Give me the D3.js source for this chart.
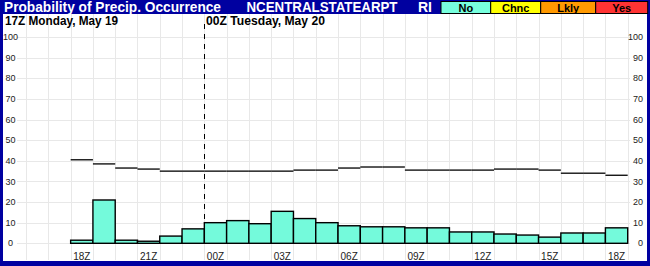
<!DOCTYPE html>
<html>
<head>
<meta charset="utf-8">
<script src="https://cdn.jsdelivr.net/npm/d3@7"></script>
<style>
  body { margin: 0; background: #fff; }
  svg { display: block; font-family: Arial, "Liberation Sans", sans-serif; }
</style>
</head>
<body>
<svg id="chart" width="650" height="266"></svg>
<script>
// Hourly categories, 18Z Monday through 18Z Tuesday
const hourLabels = ['18Z', '19Z', '20Z', '21Z', '22Z', '23Z', '00Z', '01Z', '02Z', '03Z', '04Z', '05Z',
  '06Z', '07Z', '08Z', '09Z', '10Z', '11Z', '12Z', '13Z', '14Z', '15Z', '16Z', '17Z', '18Z'];

// Probability of precip (bars), percent
const popValues = [1.5, 21, 1.5, 1, 3.5, 7, 10, 11, 9.5, 15.5, 12, 10,
  8.5, 8, 8, 7.5, 7.5, 5.5, 5.5, 4.5, 4, 3, 5, 5, 7.5];

// Reference level (black step line), percent
const refValues = [40.5, 38.5, 36.5, 36, 35, 35, 35, 35, 35, 35, 35.5, 35.5,
  36.5, 37, 37, 35.5, 35.5, 35.5, 35.5, 36, 36, 35.5, 34, 34, 33];

const yTicks = [0, 10, 20, 30, 40, 50, 60, 70, 80, 90, 100];

const legendItems = [
  { label: 'No', color: '#77ffdd' },
  { label: 'Chnc', color: '#ffff00' },
  { label: 'Lkly', color: '#ff9900' },
  { label: 'Yes', color: '#ff3333' }
];

const svg = d3.select('#chart');
const blue = '#0000a0';

// Scales: index 0 = 18Z Monday, 6 = 00Z Tuesday
const x = d3.scaleLinear().domain([-3, 25]).range([3.8, 627.7]);
const y = d3.scaleLinear().domain([0, 100]).range([243.3, 37.1]);

// Frame and title bar
svg.append('rect').attr('width', 650).attr('height', 266).attr('fill', blue);
svg.append('rect').attr('x', 3).attr('y', 14).attr('width', 644).attr('height', 247).attr('fill', '#fff');

svg.append('text').attr('x', 4).attr('y', 12)
  .attr('fill', '#fff').attr('font-size', 14).attr('font-weight', 'bold')
  .attr('textLength', 217).attr('lengthAdjust', 'spacingAndGlyphs')
  .text('Probability of Precip. Occurrence');
svg.append('text').attr('x', 246.5).attr('y', 12)
  .attr('fill', '#fff').attr('font-size', 14).attr('font-weight', 'bold')
  .attr('textLength', 151).attr('lengthAdjust', 'spacingAndGlyphs')
  .text('NCENTRALSTATEARPT');
svg.append('text').attr('x', 418).attr('y', 12)
  .attr('fill', '#fff').attr('font-size', 14).attr('font-weight', 'bold')
  .text('RI');

// Legend boxes
const legendX = [441, 490.7, 540.7, 595.7, 647.7];
const legend = svg.append('g');
legendItems.forEach((d, i) => {
  legend.append('rect')
    .attr('x', legendX[i]).attr('y', 1.5)
    .attr('width', legendX[i + 1] - legendX[i]).attr('height', 12)
    .attr('fill', d.color).attr('stroke', '#000').attr('stroke-width', 1);
  legend.append('text')
    .attr('x', (legendX[i] + legendX[i + 1]) / 2).attr('y', 11.5)
    .attr('text-anchor', 'middle').attr('font-size', 11).attr('font-weight', 'bold')
    .text(d.label);
});

// Grid
const grid = svg.append('g').attr('stroke', '#e8e8e8').attr('stroke-width', 1);
d3.range(-2, 26).forEach(h => {
  const xx = Math.round(x(h)) + 0.5;
  grid.append('line').attr('x1', xx).attr('x2', xx).attr('y1', 14).attr('y2', 260);
});
yTicks.forEach(t => {
  const yy = Math.round(y(t)) + 0.5;
  grid.append('line').attr('x1', 17).attr('x2', 630).attr('y1', yy).attr('y2', yy);
});

// Day labels
svg.append('text').attr('x', 5).attr('y', 25)
  .attr('font-size', 12).attr('font-weight', 'bold')
  .attr('textLength', 113).attr('lengthAdjust', 'spacingAndGlyphs')
  .text('17Z Monday, May 19');
svg.append('text').attr('x', 206).attr('y', 25)
  .attr('font-size', 12).attr('font-weight', 'bold')
  .attr('textLength', 119).attr('lengthAdjust', 'spacingAndGlyphs')
  .text('00Z Tuesday, May 20');

// Day boundary (00Z)
svg.append('line')
  .attr('x1', Math.round(x(6)) + 0.5).attr('x2', Math.round(x(6)) + 0.5)
  .attr('y1', 24).attr('y2', y(0))
  .attr('stroke', '#000').attr('stroke-dasharray', '5,5');

// Y axis labels (both sides)
const yLabels = svg.append('g').attr('font-size', 9).attr('fill', '#222');
yTicks.forEach(t => {
  yLabels.append('text').attr('x', 10.5).attr('y', y(t)).attr('dy', '0.35em')
    .attr('text-anchor', 'middle').text(t);
  yLabels.append('text').attr('x', 643).attr('y', y(t)).attr('dy', '0.35em')
    .attr('text-anchor', 'end').text(t);
});

// Bars
svg.append('g').selectAll('rect')
  .data(popValues)
  .join('rect')
  .attr('x', (d, i) => x(i))
  .attr('y', d => y(d))
  .attr('width', (d, i) => x(i + 1) - x(i))
  .attr('height', d => y(0) - y(d))
  .attr('fill', '#74fadb')
  .attr('stroke', '#000')
  .attr('stroke-width', 1.4);

// Step line, one flat segment per hour
svg.append('g').selectAll('line')
  .data(refValues)
  .join('line')
  .attr('x1', (d, i) => x(i))
  .attr('x2', (d, i) => x(i + 1))
  .attr('y1', d => y(d))
  .attr('y2', d => y(d))
  .attr('stroke', '#000')
  .attr('stroke-width', 1.3);

// Hour labels every 3 hours
svg.append('g').selectAll('text')
  .data(hourLabels.map((h, i) => ({ h, i })).filter(d => d.i % 3 === 0))
  .join('text')
  .attr('x', d => (x(d.i) + x(d.i + 1)) / 2)
  .attr('y', 260)
  .attr('text-anchor', 'middle')
  .attr('font-size', 10)
  .attr('fill', '#222')
  .text(d => d.h);
</script>
</body>
</html>
